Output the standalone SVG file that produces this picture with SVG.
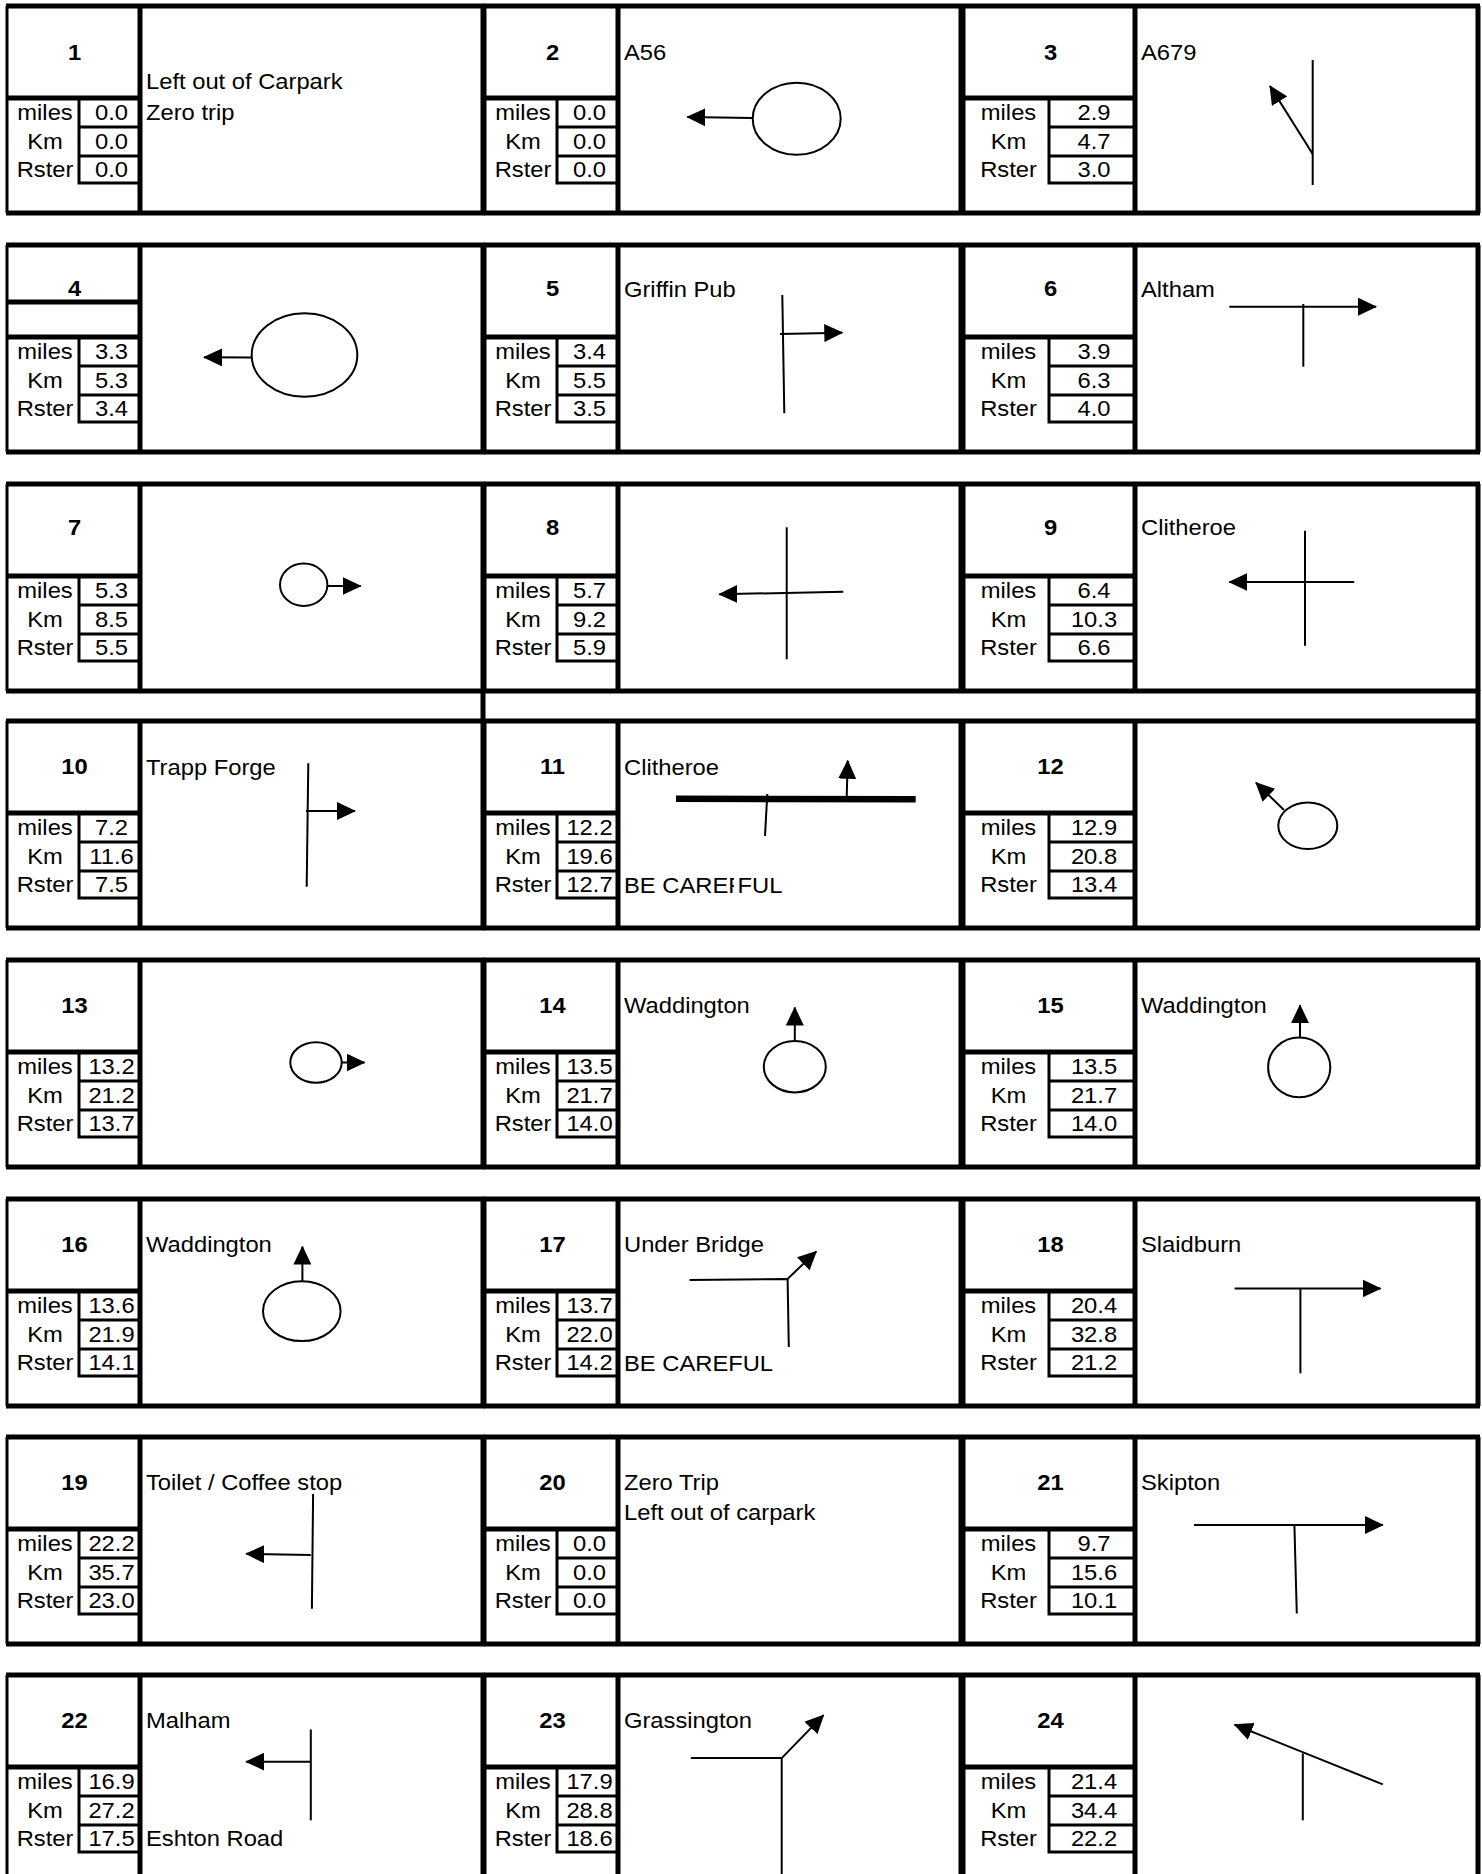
<svg xmlns="http://www.w3.org/2000/svg" xmlns:xlink="http://www.w3.org/1999/xlink" width="1482" height="1874" viewBox="0 0 1482 1874">
<style>
.tk{stroke:#000;stroke-width:5;fill:none}
.tn{stroke:#000;stroke-width:3;fill:none}
.rd{stroke:#000;stroke-width:2;fill:none}
.ar{stroke:#000;stroke-width:2;fill:none;marker-end:url(#ah)}
text{font-family:"Liberation Sans",Arial,sans-serif;font-size:22px;fill:#000}
.n{font-weight:bold;text-anchor:middle}
.c{text-anchor:middle}
</style>
<defs>
<marker id="ah" markerUnits="userSpaceOnUse" markerWidth="19" markerHeight="18" viewBox="0 0 19 18" refX="18" refY="9" orient="auto"><path d="M0,0L19,9L0,18z" fill="#000"/></marker>
<g id="fAB">
<path class="tn" d="M0,0V207"/>
<path class="tk" d="M-1,0H478M-1,207H478M476,0V207M133,0V207M0,92H133"/>
<path class="tn" d="M72,93V177H133M72,121H133M72,150H133"/>
</g>
<g id="fC">
<path class="tn" d="M0,0V207"/>
<path class="tk" d="M-1,0H516M-1,207H516M514,0V207M171,0V207M0,92H171"/>
<path class="tn" d="M85,93V177H171M85,121H171M85,150H171"/>
</g>
<clipPath id="cbe"><rect x="600" y="860" width="134" height="45"/></clipPath>
</defs>
<rect width="1482" height="1874" fill="#fff"/>

<g id="connectors">
<path class="tk" d="M483,690V721M1478,690V721"/>
</g>

<!-- Row 1 -->
<g id="item1">
<use xlink:href="#fAB" x="7" y="6"/>
<text class="n" transform="matrix(1.08 0 0 1 74.5 59.5)">1</text>
<text transform="matrix(1.08 0 0 1 146 89)">Left out of Carpark</text>
<text transform="matrix(1.08 0 0 1 146 119.5)">Zero trip</text>
<text class="c" transform="matrix(1.08 0 0 1 45 119.5)">miles</text>
<text class="c" transform="matrix(1.08 0 0 1 45 148.5)">Km</text>
<text class="c" transform="matrix(1.08 0 0 1 45 177)">Rster</text>
<text class="c" transform="matrix(1.08 0 0 1 111.5 119.5)">0.0</text>
<text class="c" transform="matrix(1.08 0 0 1 111.5 148.5)">0.0</text>
<text class="c" transform="matrix(1.08 0 0 1 111.5 177)">0.0</text>
</g>
<g id="item2">
<use xlink:href="#fAB" x="485" y="6"/>
<text class="n" transform="matrix(1.08 0 0 1 552.5 59.5)">2</text>
<text transform="matrix(1.08 0 0 1 624 60)">A56</text>
<text class="c" transform="matrix(1.08 0 0 1 523 119.5)">miles</text>
<text class="c" transform="matrix(1.08 0 0 1 523 148.5)">Km</text>
<text class="c" transform="matrix(1.08 0 0 1 523 177)">Rster</text>
<text class="c" transform="matrix(1.08 0 0 1 589.5 119.5)">0.0</text>
<text class="c" transform="matrix(1.08 0 0 1 589.5 148.5)">0.0</text>
<text class="c" transform="matrix(1.08 0 0 1 589.5 177)">0.0</text>
<ellipse class="rd" cx="796.7" cy="118.8" rx="44" ry="36"/>
<path class="ar" d="M752.7,118L687.3,117"/>
</g>
<g id="item3">
<use xlink:href="#fC" x="964" y="6"/>
<text class="n" transform="matrix(1.08 0 0 1 1050.5 59.5)">3</text>
<text transform="matrix(1.08 0 0 1 1141 60)">A679</text>
<text class="c" transform="matrix(1.08 0 0 1 1008.5 119.5)">miles</text>
<text class="c" transform="matrix(1.08 0 0 1 1008.5 148.5)">Km</text>
<text class="c" transform="matrix(1.08 0 0 1 1008.5 177)">Rster</text>
<text class="c" transform="matrix(1.08 0 0 1 1094 119.5)">2.9</text>
<text class="c" transform="matrix(1.08 0 0 1 1094 148.5)">4.7</text>
<text class="c" transform="matrix(1.08 0 0 1 1094 177)">3.0</text>
<path class="rd" d="M1312.7,60V185"/>
<path class="ar" d="M1312.7,154L1270,86"/>
</g>

<!-- Row 2 -->
<g id="item4">
<use xlink:href="#fAB" x="7" y="245"/>
<path class="tk" d="M7,302H140"/>
<text class="n" transform="matrix(1.08 0 0 1 74.5 295.5)">4</text>
<text class="c" transform="matrix(1.08 0 0 1 45 358.5)">miles</text>
<text class="c" transform="matrix(1.08 0 0 1 45 387.5)">Km</text>
<text class="c" transform="matrix(1.08 0 0 1 45 416)">Rster</text>
<text class="c" transform="matrix(1.08 0 0 1 111.5 358.5)">3.3</text>
<text class="c" transform="matrix(1.08 0 0 1 111.5 387.5)">5.3</text>
<text class="c" transform="matrix(1.08 0 0 1 111.5 416)">3.4</text>
<ellipse class="rd" cx="304.5" cy="355" rx="52.8" ry="41.7"/>
<path class="ar" d="M251.7,357.5L204,357.3"/>
</g>
<g id="item5">
<use xlink:href="#fAB" x="485" y="245"/>
<text class="n" transform="matrix(1.08 0 0 1 552.5 295.5)">5</text>
<text transform="matrix(1.08 0 0 1 624 296.5)">Griffin Pub</text>
<text class="c" transform="matrix(1.08 0 0 1 523 358.5)">miles</text>
<text class="c" transform="matrix(1.08 0 0 1 523 387.5)">Km</text>
<text class="c" transform="matrix(1.08 0 0 1 523 416)">Rster</text>
<text class="c" transform="matrix(1.08 0 0 1 589.5 358.5)">3.4</text>
<text class="c" transform="matrix(1.08 0 0 1 589.5 387.5)">5.5</text>
<text class="c" transform="matrix(1.08 0 0 1 589.5 416)">3.5</text>
<path class="rd" d="M782.3,295L784.3,413.3"/>
<path class="ar" d="M780,334L842.3,332.7"/>
</g>
<g id="item6">
<use xlink:href="#fC" x="964" y="245"/>
<text class="n" transform="matrix(1.08 0 0 1 1050.5 295.5)">6</text>
<text transform="matrix(1.08 0 0 1 1141 296.5)">Altham</text>
<text class="c" transform="matrix(1.08 0 0 1 1008.5 358.5)">miles</text>
<text class="c" transform="matrix(1.08 0 0 1 1008.5 387.5)">Km</text>
<text class="c" transform="matrix(1.08 0 0 1 1008.5 416)">Rster</text>
<text class="c" transform="matrix(1.08 0 0 1 1094 358.5)">3.9</text>
<text class="c" transform="matrix(1.08 0 0 1 1094 387.5)">6.3</text>
<text class="c" transform="matrix(1.08 0 0 1 1094 416)">4.0</text>
<path class="ar" d="M1229.3,306.7H1376"/>
<path class="rd" d="M1303.3,304V366.7"/>
</g>

<!-- Row 3 -->
<g id="item7">
<use xlink:href="#fAB" x="7" y="484"/>
<text class="n" transform="matrix(1.08 0 0 1 74.5 535)">7</text>
<text class="c" transform="matrix(1.08 0 0 1 45 597.5)">miles</text>
<text class="c" transform="matrix(1.08 0 0 1 45 626.5)">Km</text>
<text class="c" transform="matrix(1.08 0 0 1 45 655)">Rster</text>
<text class="c" transform="matrix(1.08 0 0 1 111.5 597.5)">5.3</text>
<text class="c" transform="matrix(1.08 0 0 1 111.5 626.5)">8.5</text>
<text class="c" transform="matrix(1.08 0 0 1 111.5 655)">5.5</text>
<ellipse class="rd" cx="303.7" cy="584.7" rx="23.7" ry="21.3"/>
<path class="ar" d="M327.4,586H360.7"/>
</g>
<g id="item8">
<use xlink:href="#fAB" x="485" y="484"/>
<text class="n" transform="matrix(1.08 0 0 1 552.5 535)">8</text>
<text class="c" transform="matrix(1.08 0 0 1 523 597.5)">miles</text>
<text class="c" transform="matrix(1.08 0 0 1 523 626.5)">Km</text>
<text class="c" transform="matrix(1.08 0 0 1 523 655)">Rster</text>
<text class="c" transform="matrix(1.08 0 0 1 589.5 597.5)">5.7</text>
<text class="c" transform="matrix(1.08 0 0 1 589.5 626.5)">9.2</text>
<text class="c" transform="matrix(1.08 0 0 1 589.5 655)">5.9</text>
<path class="rd" d="M786.7,527.3V659.3"/>
<path class="ar" d="M843.3,591.7L719.3,594.3"/>
</g>
<g id="item9">
<use xlink:href="#fC" x="964" y="484"/>
<text class="n" transform="matrix(1.08 0 0 1 1050.5 535)">9</text>
<text transform="matrix(1.08 0 0 1 1141 535)">Clitheroe</text>
<text class="c" transform="matrix(1.08 0 0 1 1008.5 597.5)">miles</text>
<text class="c" transform="matrix(1.08 0 0 1 1008.5 626.5)">Km</text>
<text class="c" transform="matrix(1.08 0 0 1 1008.5 655)">Rster</text>
<text class="c" transform="matrix(1.08 0 0 1 1094 597.5)">6.4</text>
<text class="c" transform="matrix(1.08 0 0 1 1094 626.5)">10.3</text>
<text class="c" transform="matrix(1.08 0 0 1 1094 655)">6.6</text>
<path class="rd" d="M1305,530.7V645.7"/>
<path class="ar" d="M1354.3,582H1229.3"/>
</g>

<!-- Row 4 -->
<g id="item10">
<use xlink:href="#fAB" x="7" y="721"/>
<text class="n" transform="matrix(1.08 0 0 1 74.5 774)">10</text>
<text transform="matrix(1.08 0 0 1 146 774.5)">Trapp Forge</text>
<text class="c" transform="matrix(1.08 0 0 1 45 834.5)">miles</text>
<text class="c" transform="matrix(1.08 0 0 1 45 863.5)">Km</text>
<text class="c" transform="matrix(1.08 0 0 1 45 892)">Rster</text>
<text class="c" transform="matrix(1.08 0 0 1 111.5 834.5)">7.2</text>
<text class="c" transform="matrix(1.08 0 0 1 111.5 863.5)">11.6</text>
<text class="c" transform="matrix(1.08 0 0 1 111.5 892)">7.5</text>
<path class="rd" d="M308.3,763.3L306.7,886.7"/>
<path class="ar" d="M306,811H355"/>
</g>
<g id="item11">
<use xlink:href="#fAB" x="485" y="721"/>
<text class="n" transform="matrix(1.08 0 0 1 552.5 774)">11</text>
<text transform="matrix(1.08 0 0 1 624 774.5)">Clitheroe</text>
<g clip-path="url(#cbe)"><text transform="matrix(1.08 0 0 1 624 893)">BE CAREF</text></g>
<text transform="matrix(1.08 0 0 1 737.5 893)">FUL</text>
<text class="c" transform="matrix(1.08 0 0 1 523 834.5)">miles</text>
<text class="c" transform="matrix(1.08 0 0 1 523 863.5)">Km</text>
<text class="c" transform="matrix(1.08 0 0 1 523 892)">Rster</text>
<text class="c" transform="matrix(1.08 0 0 1 589.5 834.5)">12.2</text>
<text class="c" transform="matrix(1.08 0 0 1 589.5 863.5)">19.6</text>
<text class="c" transform="matrix(1.08 0 0 1 589.5 892)">12.7</text>
<path d="M676,798.7L915.7,799.3" stroke="#000" stroke-width="6.5" fill="none"/>
<path class="rd" d="M767.3,794L765,836"/>
<path class="ar" d="M846.7,796.7L847.7,760.7"/>
</g>
<g id="item12">
<use xlink:href="#fC" x="964" y="721"/>
<text class="n" transform="matrix(1.08 0 0 1 1050.5 774)">12</text>
<text class="c" transform="matrix(1.08 0 0 1 1008.5 834.5)">miles</text>
<text class="c" transform="matrix(1.08 0 0 1 1008.5 863.5)">Km</text>
<text class="c" transform="matrix(1.08 0 0 1 1008.5 892)">Rster</text>
<text class="c" transform="matrix(1.08 0 0 1 1094 834.5)">12.9</text>
<text class="c" transform="matrix(1.08 0 0 1 1094 863.5)">20.8</text>
<text class="c" transform="matrix(1.08 0 0 1 1094 892)">13.4</text>
<ellipse class="rd" cx="1307.8" cy="825.7" rx="29.5" ry="23.3"/>
<path class="ar" d="M1284,810L1256,782.7"/>
</g>

<!-- Row 5 -->
<g id="item13">
<use xlink:href="#fAB" x="7" y="960"/>
<text class="n" transform="matrix(1.08 0 0 1 74.5 1012.5)">13</text>
<text class="c" transform="matrix(1.08 0 0 1 45 1073.5)">miles</text>
<text class="c" transform="matrix(1.08 0 0 1 45 1102.5)">Km</text>
<text class="c" transform="matrix(1.08 0 0 1 45 1131)">Rster</text>
<text class="c" transform="matrix(1.08 0 0 1 111.5 1073.5)">13.2</text>
<text class="c" transform="matrix(1.08 0 0 1 111.5 1102.5)">21.2</text>
<text class="c" transform="matrix(1.08 0 0 1 111.5 1131)">13.7</text>
<ellipse class="rd" cx="316" cy="1062.5" rx="25.7" ry="20.3"/>
<path class="ar" d="M341.8,1062.5H364.5"/>
</g>
<g id="item14">
<use xlink:href="#fAB" x="485" y="960"/>
<text class="n" transform="matrix(1.08 0 0 1 552.5 1012.5)">14</text>
<text transform="matrix(1.08 0 0 1 624 1013)">Waddington</text>
<text class="c" transform="matrix(1.08 0 0 1 523 1073.5)">miles</text>
<text class="c" transform="matrix(1.08 0 0 1 523 1102.5)">Km</text>
<text class="c" transform="matrix(1.08 0 0 1 523 1131)">Rster</text>
<text class="c" transform="matrix(1.08 0 0 1 589.5 1073.5)">13.5</text>
<text class="c" transform="matrix(1.08 0 0 1 589.5 1102.5)">21.7</text>
<text class="c" transform="matrix(1.08 0 0 1 589.5 1131)">14.0</text>
<ellipse class="rd" cx="794.8" cy="1066.7" rx="31" ry="25.7"/>
<path class="ar" d="M794.8,1041V1007.5"/>
</g>
<g id="item15">
<use xlink:href="#fC" x="964" y="960"/>
<text class="n" transform="matrix(1.08 0 0 1 1050.5 1012.5)">15</text>
<text transform="matrix(1.08 0 0 1 1141 1013)">Waddington</text>
<text class="c" transform="matrix(1.08 0 0 1 1008.5 1073.5)">miles</text>
<text class="c" transform="matrix(1.08 0 0 1 1008.5 1102.5)">Km</text>
<text class="c" transform="matrix(1.08 0 0 1 1008.5 1131)">Rster</text>
<text class="c" transform="matrix(1.08 0 0 1 1094 1073.5)">13.5</text>
<text class="c" transform="matrix(1.08 0 0 1 1094 1102.5)">21.7</text>
<text class="c" transform="matrix(1.08 0 0 1 1094 1131)">14.0</text>
<ellipse class="rd" cx="1299.2" cy="1067.3" rx="31.1" ry="29.9"/>
<path class="ar" d="M1300,1037.4V1005.2"/>
</g>

<!-- Row 6 -->
<g id="item16">
<use xlink:href="#fAB" x="7" y="1199"/>
<text class="n" transform="matrix(1.08 0 0 1 74.5 1251.5)">16</text>
<text transform="matrix(1.08 0 0 1 146 1252)">Waddington</text>
<text class="c" transform="matrix(1.08 0 0 1 45 1312.5)">miles</text>
<text class="c" transform="matrix(1.08 0 0 1 45 1341.5)">Km</text>
<text class="c" transform="matrix(1.08 0 0 1 45 1370)">Rster</text>
<text class="c" transform="matrix(1.08 0 0 1 111.5 1312.5)">13.6</text>
<text class="c" transform="matrix(1.08 0 0 1 111.5 1341.5)">21.9</text>
<text class="c" transform="matrix(1.08 0 0 1 111.5 1370)">14.1</text>
<ellipse class="rd" cx="301.8" cy="1311.2" rx="38.8" ry="29.9"/>
<path class="ar" d="M302.4,1281.3V1246.6"/>
</g>
<g id="item17">
<use xlink:href="#fAB" x="485" y="1199"/>
<text class="n" transform="matrix(1.08 0 0 1 552.5 1251.5)">17</text>
<text transform="matrix(1.08 0 0 1 624 1252)">Under Bridge</text>
<text transform="matrix(1.08 0 0 1 624 1371)">BE CAREFUL</text>
<text class="c" transform="matrix(1.08 0 0 1 523 1312.5)">miles</text>
<text class="c" transform="matrix(1.08 0 0 1 523 1341.5)">Km</text>
<text class="c" transform="matrix(1.08 0 0 1 523 1370)">Rster</text>
<text class="c" transform="matrix(1.08 0 0 1 589.5 1312.5)">13.7</text>
<text class="c" transform="matrix(1.08 0 0 1 589.5 1341.5)">22.0</text>
<text class="c" transform="matrix(1.08 0 0 1 589.5 1370)">14.2</text>
<path class="rd" d="M689.6,1280L787.6,1278.9L788.8,1347"/>
<path class="ar" d="M787.6,1278.9L816.3,1251.4"/>
</g>
<g id="item18">
<use xlink:href="#fC" x="964" y="1199"/>
<text class="n" transform="matrix(1.08 0 0 1 1050.5 1251.5)">18</text>
<text transform="matrix(1.08 0 0 1 1141 1252)">Slaidburn</text>
<text class="c" transform="matrix(1.08 0 0 1 1008.5 1312.5)">miles</text>
<text class="c" transform="matrix(1.08 0 0 1 1008.5 1341.5)">Km</text>
<text class="c" transform="matrix(1.08 0 0 1 1008.5 1370)">Rster</text>
<text class="c" transform="matrix(1.08 0 0 1 1094 1312.5)">20.4</text>
<text class="c" transform="matrix(1.08 0 0 1 1094 1341.5)">32.8</text>
<text class="c" transform="matrix(1.08 0 0 1 1094 1370)">21.2</text>
<path class="ar" d="M1234.6,1288.4H1380.5"/>
<path class="rd" d="M1300.4,1288.4V1373.3"/>
</g>

<!-- Row 7 -->
<g id="item19">
<use xlink:href="#fAB" x="7" y="1437"/>
<text class="n" transform="matrix(1.08 0 0 1 74.5 1489.5)">19</text>
<text transform="matrix(1.08 0 0 1 146 1490)">Toilet / Coffee stop</text>
<text class="c" transform="matrix(1.08 0 0 1 45 1550.5)">miles</text>
<text class="c" transform="matrix(1.08 0 0 1 45 1579.5)">Km</text>
<text class="c" transform="matrix(1.08 0 0 1 45 1608)">Rster</text>
<text class="c" transform="matrix(1.08 0 0 1 111.5 1550.5)">22.2</text>
<text class="c" transform="matrix(1.08 0 0 1 111.5 1579.5)">35.7</text>
<text class="c" transform="matrix(1.08 0 0 1 111.5 1608)">23.0</text>
<path class="rd" d="M313.1,1494L311.9,1608.8"/>
<path class="ar" d="M310.8,1555L246.2,1553.8"/>
</g>
<g id="item20">
<use xlink:href="#fAB" x="485" y="1437"/>
<text class="n" transform="matrix(1.08 0 0 1 552.5 1489.5)">20</text>
<text transform="matrix(1.08 0 0 1 624 1490)">Zero Trip</text>
<text transform="matrix(1.08 0 0 1 624 1520)">Left out of carpark</text>
<text class="c" transform="matrix(1.08 0 0 1 523 1550.5)">miles</text>
<text class="c" transform="matrix(1.08 0 0 1 523 1579.5)">Km</text>
<text class="c" transform="matrix(1.08 0 0 1 523 1608)">Rster</text>
<text class="c" transform="matrix(1.08 0 0 1 589.5 1550.5)">0.0</text>
<text class="c" transform="matrix(1.08 0 0 1 589.5 1579.5)">0.0</text>
<text class="c" transform="matrix(1.08 0 0 1 589.5 1608)">0.0</text>
</g>
<g id="item21">
<use xlink:href="#fC" x="964" y="1437"/>
<text class="n" transform="matrix(1.08 0 0 1 1050.5 1489.5)">21</text>
<text transform="matrix(1.08 0 0 1 1141 1490)">Skipton</text>
<text class="c" transform="matrix(1.08 0 0 1 1008.5 1550.5)">miles</text>
<text class="c" transform="matrix(1.08 0 0 1 1008.5 1579.5)">Km</text>
<text class="c" transform="matrix(1.08 0 0 1 1008.5 1608)">Rster</text>
<text class="c" transform="matrix(1.08 0 0 1 1094 1550.5)">9.7</text>
<text class="c" transform="matrix(1.08 0 0 1 1094 1579.5)">15.6</text>
<text class="c" transform="matrix(1.08 0 0 1 1094 1608)">10.1</text>
<path class="ar" d="M1194,1525H1382.8"/>
<path class="rd" d="M1294.4,1525L1296.8,1613.5"/>
</g>

<!-- Row 8 -->
<g id="item22">
<use xlink:href="#fAB" x="7" y="1675"/>
<text class="n" transform="matrix(1.08 0 0 1 74.5 1727.5)">22</text>
<text transform="matrix(1.08 0 0 1 146 1728)">Malham</text>
<text transform="matrix(1.08 0 0 1 146 1846)">Eshton Road</text>
<text class="c" transform="matrix(1.08 0 0 1 45 1788.5)">miles</text>
<text class="c" transform="matrix(1.08 0 0 1 45 1817.5)">Km</text>
<text class="c" transform="matrix(1.08 0 0 1 45 1846)">Rster</text>
<text class="c" transform="matrix(1.08 0 0 1 111.5 1788.5)">16.9</text>
<text class="c" transform="matrix(1.08 0 0 1 111.5 1817.5)">27.2</text>
<text class="c" transform="matrix(1.08 0 0 1 111.5 1846)">17.5</text>
<path class="rd" d="M310.8,1729.5V1820.3"/>
<path class="ar" d="M310.8,1761.7H246.2"/>
</g>
<g id="item23">
<use xlink:href="#fAB" x="485" y="1675"/>
<text class="n" transform="matrix(1.08 0 0 1 552.5 1727.5)">23</text>
<text transform="matrix(1.08 0 0 1 624 1728)">Grassington</text>
<text class="c" transform="matrix(1.08 0 0 1 523 1788.5)">miles</text>
<text class="c" transform="matrix(1.08 0 0 1 523 1817.5)">Km</text>
<text class="c" transform="matrix(1.08 0 0 1 523 1846)">Rster</text>
<text class="c" transform="matrix(1.08 0 0 1 589.5 1788.5)">17.9</text>
<text class="c" transform="matrix(1.08 0 0 1 589.5 1817.5)">28.8</text>
<text class="c" transform="matrix(1.08 0 0 1 589.5 1846)">18.6</text>
<path class="rd" d="M690.8,1758.1H781.7V1874"/>
<path class="ar" d="M781.7,1758.1L823.5,1715.1"/>
</g>
<g id="item24">
<use xlink:href="#fC" x="964" y="1675"/>
<text class="n" transform="matrix(1.08 0 0 1 1050.5 1727.5)">24</text>
<text class="c" transform="matrix(1.08 0 0 1 1008.5 1788.5)">miles</text>
<text class="c" transform="matrix(1.08 0 0 1 1008.5 1817.5)">Km</text>
<text class="c" transform="matrix(1.08 0 0 1 1008.5 1846)">Rster</text>
<text class="c" transform="matrix(1.08 0 0 1 1094 1788.5)">21.4</text>
<text class="c" transform="matrix(1.08 0 0 1 1094 1817.5)">34.4</text>
<text class="c" transform="matrix(1.08 0 0 1 1094 1846)">22.2</text>
<path class="ar" d="M1382.8,1784.4L1234.6,1724.7"/>
<path class="rd" d="M1302.8,1753.4V1820.3"/>
</g>
</svg>
